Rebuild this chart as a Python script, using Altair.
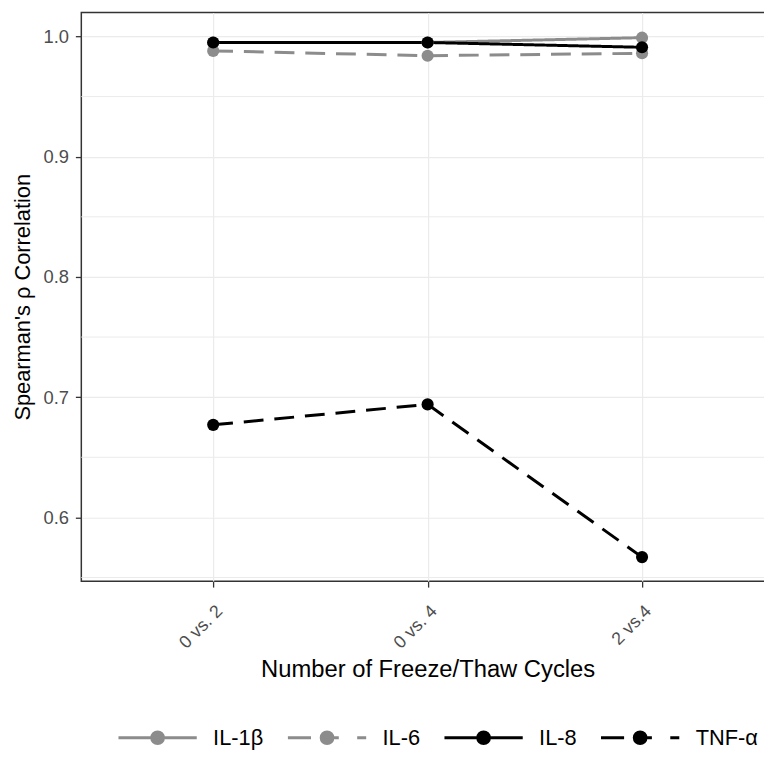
import altair as alt
import pandas as pd

comparisons = ["0 vs. 2", "0 vs. 4", "2 vs.4"]
series = ["IL-1β", "IL-6", "IL-8", "TNF-α"]
il1b = [0.995, 0.995, 0.999]
il6 = [0.988, 0.984, 0.986]
il8 = [0.995, 0.995, 0.991]
tnfa = [0.677, 0.694, 0.567]
minor_grid = [0.55, 0.65, 0.75, 0.85, 0.95]
colors = ["#8c8c8c", "#8c8c8c", "#000000", "#000000"]
dashes = [[1, 0], [20, 11], [1, 0], [20, 11]]

rows = []
for name, vals in zip(series, [il1b, il6, il8, tnfa]):
    for c, v in zip(comparisons, vals):
        rows.append({"comparison": c, "cytokine": name, "rho": v})
df = pd.DataFrame(rows)
minor_df = pd.DataFrame({"v": minor_grid})

FONT = "Liberation Sans"
circle = "M0.15,0A0.15,0.15,0,1,1,-0.15,0A0.15,0.15,0,1,1,0.15,0Z"
solid_path = "M-1,0H1" + circle
dash_path = "M-1,0H-0.41M-0.1,0H0.3M0.77,0H1" + circle
shapes = [solid_path, dash_path, solid_path, dash_path]

yscale = alt.Scale(domain=[0.547, 1.02], nice=False, zero=False)
xenc = alt.X("comparison:N", sort=comparisons,
             scale=alt.Scale(type="point", padding=0.615),
             axis=alt.Axis(title="Number of Freeze/Thaw Cycles", labelAngle=315,
                           labelAlign="right", labelBaseline="top",
                           labelFontSize=18, labelColor="#4d4d4d", labelPadding=15,
                           titleFontSize=24, titleFontWeight="normal", titleColor="#000000",
                           titlePadding=6, ticks=True, tickColor="#333333", tickSize=6,
                           tickWidth=1.3, domain=False, grid=True, gridColor="#ebebeb",
                           gridWidth=1.2, labelFont=FONT, titleFont=FONT))

minor = alt.Chart(minor_df).mark_rule(color="#ebebeb", strokeWidth=1).encode(
    y=alt.Y("v:Q", scale=yscale)
)

lines = alt.Chart(df).mark_line(strokeWidth=3).encode(
    x=xenc,
    y=alt.Y("rho:Q", scale=yscale,
            axis=alt.Axis(title="Spearman's ρ Correlation", values=[0.6, 0.7, 0.8, 0.9, 1.0],
                          format=".1f", labelFontSize=18.5, labelColor="#4d4d4d",
                          labelPadding=7, titleFontSize=22, titleFontWeight="normal",
                          titleColor="#000000", titlePadding=9, ticks=True,
                          tickColor="#333333", tickSize=6, tickWidth=1.3, domain=False,
                          grid=True, gridColor="#ebebeb", gridWidth=1.2,
                          labelFont=FONT, titleFont=FONT)),
    color=alt.Color("cytokine:N", sort=series, scale=alt.Scale(range=colors), legend=None),
    strokeDash=alt.StrokeDash("cytokine:N", sort=series,
                              scale=alt.Scale(range=dashes), legend=None),
    order=alt.Order("comparison:N"),
)

points = alt.Chart(df).mark_point(filled=True, size=150, opacity=1).encode(
    x=alt.X("comparison:N", sort=comparisons),
    y=alt.Y("rho:Q", scale=yscale),
    color=alt.Color("cytokine:N", sort=series, legend=None),
)

leg = alt.Legend(orient="none", legendX=36, legendY=691, direction="horizontal",
                 title=None, symbolSize=6241, symbolStrokeWidth=3, symbolOpacity=1,
                 labelFontSize=22, labelFont=FONT, labelColor="#000000",
                 labelOffset=15, columnPadding=18)

legend_layer = alt.Chart(df).mark_point(filled=True, strokeWidth=3, opacity=0).encode(
    x=alt.X("comparison:N", sort=comparisons),
    y=alt.Y("rho:Q", scale=yscale),
    fill=alt.Fill("cytokine:N", scale=alt.Scale(domain=series, range=colors), legend=leg),
    stroke=alt.Stroke("cytokine:N", scale=alt.Scale(domain=series, range=colors), legend=leg),
    shape=alt.Shape("cytokine:N", scale=alt.Scale(domain=series, range=shapes), legend=leg),
)

chart = alt.layer(minor, lines, points, legend_layer).properties(
    width=699, height=574,
    autosize=alt.AutoSizeParams(type="none"),
    padding={"left": 74, "top": 1, "right": -10, "bottom": 172},
    background="white",
).configure_view(stroke="#333333", strokeWidth=1.5)

chart.save("out.html", embed_options={"renderer": "svg", "actions": False})
